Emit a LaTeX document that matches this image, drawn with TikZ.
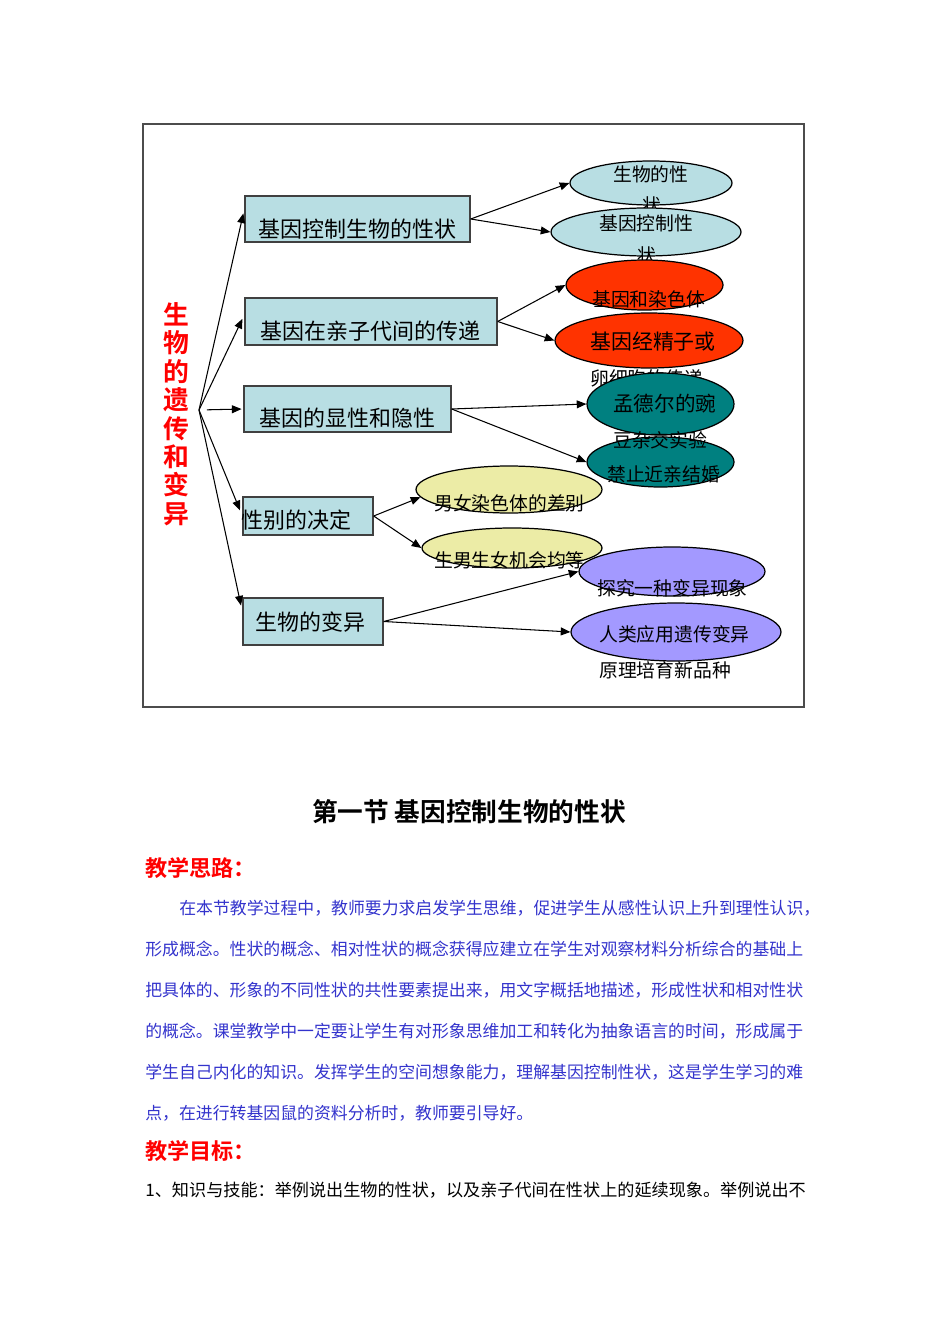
\documentclass[tikz,border=0pt]{standalone}
\usepackage{fontspec}
\setmainfont{Noto Sans CJK SC}[BoldFont={Noto Sans CJK SC Bold}]
\usepackage{tikz}
\usepackage{xcolor}
\usetikzlibrary{arrows.meta,shapes.geometric,positioning}
\definecolor{BoxCyan}{RGB}{184,222,227}
\definecolor{FireRed}{RGB}{255,51,0}
\definecolor{DeepTeal}{RGB}{0,128,128}
\definecolor{PaleYellow}{RGB}{236,236,166}
\definecolor{SoftViolet}{RGB}{163,153,255}
\definecolor{TextBlue}{RGB}{51,51,204}
\definecolor{HeadRed}{RGB}{255,0,0}
\tikzset{
  bbox/.style={draw=black!75,fill=BoxCyan,line width=0.8pt,inner sep=0pt},
  ebox/.style={ellipse,draw=black,line width=0.7pt,inner sep=0pt},
  btxt/.style={font=\fontsize{12.5}{14}\selectfont,inner sep=0pt,anchor=west},
  etxt/.style={font=\fontsize{10.7}{12}\selectfont,inner sep=0pt,anchor=west},
  ptxt/.style={font=\fontsize{9.6}{11}\selectfont,text=TextBlue,inner sep=0pt,anchor=west},
  htxt/.style={font=\fontsize{12.6}{14}\selectfont\bfseries,text=HeadRed,inner sep=0pt,anchor=west},
  arr/.style={-{Triangle[length=5.5pt,width=4.5pt]},line width=0.6pt},
}
\begin{document}
\begin{tikzpicture}[x=0.02cm,y=-0.02cm]
        \useasboundingbox (0,0) rectangle (950,1344);
        \draw[black!70,line width=0.7pt] (143,124) rectangle (804,707);
        \node[font=\fontsize{14.7}{16.2}\selectfont\bfseries,text=HeadRed,align=center,inner sep=0pt] (ttl) at (176,414) {生\\物\\的\\遗\\传\\和\\变\\异};
        \coordinate (o) at (199,410);
        % boxes
        \node[bbox,minimum width=4.5cm,minimum height=0.92cm] (a) at (357.5,219) {};
        \node[bbox,minimum width=5.04cm,minimum height=0.94cm] (b) at (371,321.5) {};
        \node[bbox,minimum width=4.14cm,minimum height=0.92cm] (c) at (347.5,409) {};
        \node[bbox,minimum width=2.6cm,minimum height=0.76cm] (d) at (308,516) {};
        \node[bbox,minimum width=2.8cm,minimum height=0.94cm] (e) at (313,621.5) {};
        \node[btxt] (ta) at (258,229) {基因控制生物的性状};
        \node[btxt] (tb) at (260,331) {基因在亲子代间的传递};
        \node[btxt] (tc) at (259,418) {基因的显性和隐性};
        \node[btxt] (td) at (241,520) {性别的决定};
        \node[btxt] (te) at (255,622) {生物的变异};
        % ellipses
        \node[ebox,fill=BoxCyan,minimum width=3.24cm,minimum height=0.88cm] (a1) at (651,183) {};
        \node[etxt] (ta1) at (613,174) {生物的性};
        \node[etxt] (tb1) at (642,205) {状};
        \node[ebox,fill=BoxCyan,minimum width=3.8cm,minimum height=0.96cm] (a2) at (646,232) {};
        \node[etxt] (ta2) at (599,223) {基因控制性};
        \node[etxt] (tb2) at (637,255) {状};
        \node[ebox,fill=FireRed,minimum width=3.14cm,minimum height=1cm] (b1) at (644.5,285) {};
        \node[etxt] (tb3) at (592,299) {基因和染色体};
        \node[ebox,fill=FireRed,minimum width=3.76cm,minimum height=1.1cm] (b2) at (649,340.5) {};
        \node[etxt,font=\fontsize{11.9}{13}\selectfont] (ta4) at (590,342) {基因经精子或};
        \node[etxt] (tb4) at (590,378) {卵细胞的传递};
        \node[ebox,fill=DeepTeal,minimum width=2.94cm,minimum height=1.24cm] (c1) at (660.5,404) {};
        \node[ebox,fill=DeepTeal,minimum width=2.94cm,minimum height=1cm] (c2) at (660.5,462) {};
        \node[etxt,font=\fontsize{11.7}{13}\selectfont] (ta5) at (613,404) {孟德尔的豌};
        \node[etxt] (tb5) at (613,440) {豆杂交实验};
        \node[etxt] (tc6) at (607,474) {禁止近亲结婚};
        \node[ebox,fill=PaleYellow,minimum width=3.72cm,minimum height=0.94cm] (d1) at (509,489.5) {};
        \node[etxt] (td7) at (434,503) {男女染色体的差别};
        \node[ebox,fill=PaleYellow,minimum width=3.6cm,minimum height=0.8cm] (d2) at (512,548) {};
        \node[ebox,fill=SoftViolet,minimum width=3.72cm,minimum height=0.98cm] (e1) at (672,571.5) {};
        \node[etxt] (td8) at (434,560) {生男生女机会均等};
        \node[etxt] (te9) at (597,588) {探究一种变异现象};
        \node[ebox,fill=SoftViolet,minimum width=4.2cm,minimum height=1.16cm] (e2) at (676,632) {};
        \node[etxt] (ta10) at (599,634) {人类应用遗传变异};
        \node[etxt] (tb10) at (599,670) {原理培育新品种};
        % connectors
        \draw[arr,shorten >=2.5pt] (o) -- (a.175);
        \draw[arr,shorten >=2.5pt] (o) -- (b.177);
        \draw[arr,shorten <=4.5pt,shorten >=1pt] (o) -- (c.west);
        \draw[arr,shorten >=3.5pt] (o) -- (d.west);
        \draw[arr,shorten >=3.5pt] (o) -- (e.172);
        \draw[arr] (a.east) -- (a1.west); \draw[arr] (a.east) -- (a2.west);
        \draw[arr] (b.east) -- (b1.west); \draw[arr] (b.east) -- (b2.west);
        \draw[arr] (c.east) -- (c1.west); \draw[arr] (c.east) -- (c2.west);
        \draw[arr] (d.east) -- (d1.185); \draw[arr] (d.east) -- (d2.west);
        \draw[arr] (e.east) -- (e1.west); \draw[arr] (e.east) -- (e2.west);
        % text below
        \node[font=\fontsize{14.6}{17}\selectfont\bfseries,inner sep=0pt] (sec) at (469,812) {第一节 基因控制生物的性状};
        \node[htxt] (h1) at (145,868) {教学思路：};
        \node[ptxt] (p1) at (179,908) {在本节教学过程中，教师要力求启发学生思维，促进学生从感性认识上升到理性认识，};
        \node[ptxt] (p2) at (145,949) {形成概念。性状的概念、相对性状的概念获得应建立在学生对观察材料分析综合的基础上};
        \node[ptxt] (p3) at (145,990) {把具体的、形象的不同性状的共性要素提出来，用文字概括地描述，形成性状和相对性状};
        \node[ptxt] (p4) at (145,1031) {的概念。课堂教学中一定要让学生有对形象思维加工和转化为抽象语言的时间，形成属于};
        \node[ptxt] (p5) at (145,1072) {学生自己内化的知识。发挥学生的空间想象能力，理解基因控制性状，这是学生学习的难};
        \node[ptxt] (p6) at (145,1113) {点，在进行转基因鼠的资料分析时，教师要引导好。};
        \node[htxt] (h2) at (145,1151) {教学目标：};
        \node[ptxt,text=black,font=\fontsize{9.75}{11}\selectfont] (p7) at (145,1190) {1、知识与技能：举例说出生物的性状，以及亲子代间在性状上的延续现象。举例说出不};
\end{tikzpicture}
\end{document}
